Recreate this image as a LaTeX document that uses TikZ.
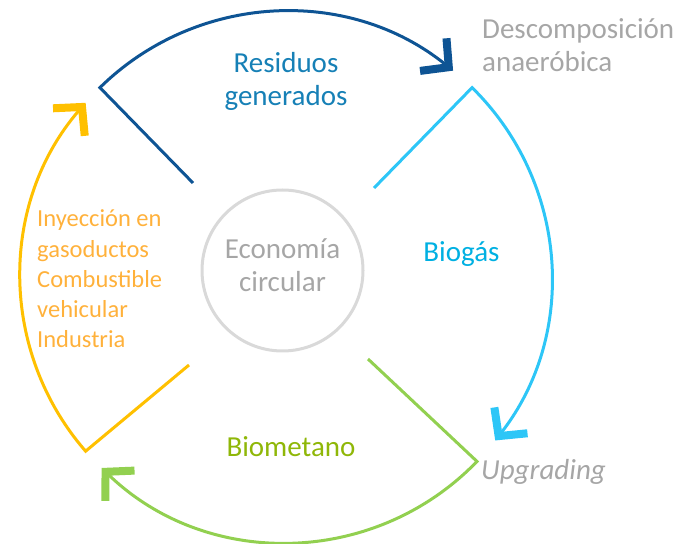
\documentclass[tikz,border=0pt]{standalone}
\usepackage{fontspec}
\setmainfont{Carlito}
\usetikzlibrary{arrows.meta}
\definecolor{dblue}{RGB}{14,84,148}
\definecolor{dbluetxt}{RGB}{22,128,182}
\definecolor{lblue}{RGB}{45,198,247}
\definecolor{lbluetxt}{RGB}{0,176,226}
\definecolor{lgreen}{RGB}{146,208,80}
\definecolor{greentxt}{RGB}{143,183,8}
\definecolor{yel}{RGB}{255,192,0}
\definecolor{orangetxt}{RGB}{255,177,59}
\definecolor{graytxt}{RGB}{166,166,166}
\definecolor{circgray}{RGB}{217,217,217}
\tikzset{
  cycleline/.style={line width=3pt, line join=miter,
    -{Straight Barb[length=20pt,width=42pt,line width=8pt]}},
  bigtxt/.style={font=\fontsize{29}{33}\selectfont, inner sep=0pt, align=center},
  smalltxt/.style={font=\fontsize{24.5}{30.3}\selectfont, inner sep=0pt, align=left}
}
\begin{document}
\begin{tikzpicture}[x=1pt,y=1pt]
\useasboundingbox (0,0) rectangle (682,543);
\coordinate (C) at (286,266);
\def\R{265.5}
% vertices
\path (C) ++(134.5:\R) coordinate (v1);
\path (C) ++(45.5:\R) coordinate (v2);
\path (C) ++(-44:\R) coordinate (v3);
\path (C) ++(221:\R) coordinate (v4);
% inner ends
\coordinate (i1) at (193,360);
\coordinate (i2) at (374,355);
\coordinate (i3) at (368,184);
\coordinate (i4) at (189,178);
% cycle segments
\draw[cycleline, dblue] (i1) -- (v1) arc[start angle=134.5, end angle=51, radius=\R];
\draw[cycleline, lblue] (i2) -- (v2) arc[start angle=45.5, end angle=-38, radius=\R];
\draw[cycleline, lgreen] (i3) -- (v3) arc[start angle=-44, end angle=-134, radius=\R];
\draw[cycleline, yel] (i4) -- (v4) arc[start angle=221, end angle=139, radius=\R];
% centre circle
\node[circle, draw=circgray, line width=3pt, minimum size=161pt, inner sep=0pt] (eco) at (282.5,272.5) {};
\node[bigtxt, text=graytxt, anchor=base] (ecotxt) at (282.5,251) {Economía\\circular};
% labels
\node[bigtxt, text=dbluetxt, anchor=base] (res) at (286,437) {Residuos\\generados};
\node[bigtxt, text=graytxt, anchor=base west, align=left] (desc) at (482,471) {Descomposición\\anaeróbica};
\node[bigtxt, text=lbluetxt, anchor=base] (bio) at (461.5,281) {Biogás};
\node[bigtxt, text=graytxt, anchor=base west, font=\fontsize{29}{33}\selectfont\itshape] (upg) at (481,63) {Upgrading};
\node[bigtxt, text=greentxt, anchor=base] (biom) at (291,86) {Biometano};
\node[smalltxt, text=orangetxt, anchor=base west] (uses) at (37,195) {Inyección en\\gasoductos\\Combustible\\vehicular\\Industria};
\end{tikzpicture}
\end{document}
